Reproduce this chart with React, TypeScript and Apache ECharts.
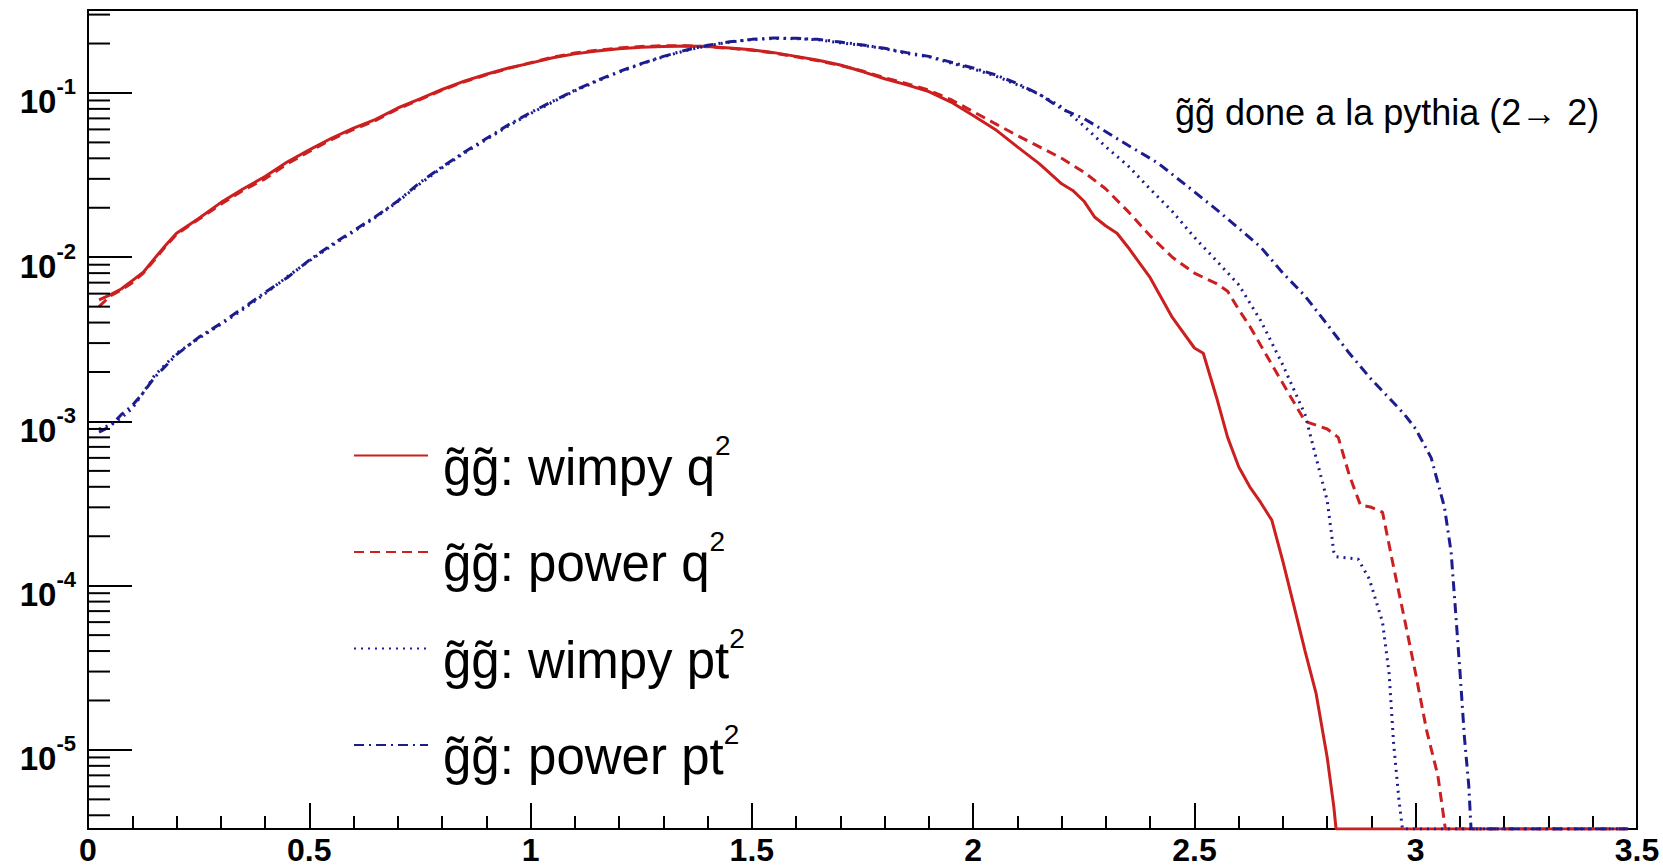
import React, { useEffect, useRef } from 'react';
import * as echarts from 'echarts';

// ---- axis ranges / ticks ----
const X_MIN = 0;
const X_MAX = 3.5;
const X_STEP = 0.5;
const Y_MIN = 3.3e-6;
const Y_MAX = 0.32;
const Y_DECADES = [-6, -5, -4, -3, -2, -1];
const Y_MINOR_MULTIPLIERS = [2, 3, 4, 5, 6, 7, 8, 9];

// ---- texts ----
const SERIES_NAMES = [
  'g\u0303g\u0303: wimpy q\u00b2',
  'g\u0303g\u0303: power q\u00b2',
  'g\u0303g\u0303: wimpy pt\u00b2',
  'g\u0303g\u0303: power pt\u00b2',
];
const ANNOTATION = 'g\u0303g\u0303 done a la pythia (2\u2192 2)';

// values that fall off the bottom of the log axis (empty bins) sit on the axis floor
const FLOOR = Y_MIN;

// ---- data: [x, y] ----
const WIMPY_Q2: [number, number][] = [
  [0.025, 5.5e-3], [0.05, 5.9e-3], [0.075, 6.4e-3], [0.1, 7.2e-3], [0.125, 8.1e-3], [0.15, 9.8e-3],
  [0.175, 0.0118], [0.2, 0.014], [0.25, 0.0172], [0.3, 0.0215], [0.35, 0.026], [0.4, 0.031],
  [0.45, 0.038], [0.5, 0.045], [0.55, 0.053], [0.6, 0.061], [0.65, 0.069], [0.7, 0.081],
  [0.75, 0.092], [0.8, 0.105], [0.85, 0.118], [0.9, 0.13], [0.95, 0.142], [1.0, 0.152],
  [1.05, 0.164], [1.1, 0.173], [1.15, 0.18], [1.2, 0.186], [1.25, 0.19], [1.3, 0.192],
  [1.35, 0.193], [1.4, 0.192], [1.45, 0.188], [1.5, 0.183], [1.55, 0.176], [1.6, 0.167],
  [1.65, 0.158], [1.7, 0.148], [1.75, 0.135], [1.8, 0.122], [1.85, 0.112], [1.9, 0.102],
  [1.95, 0.088], [2.0, 0.073], [2.05, 0.06], [2.1, 0.047], [2.15, 0.037], [2.2, 0.028],
  [2.225, 0.0255], [2.25, 0.022], [2.275, 0.0175], [2.3, 0.0155], [2.325, 0.014], [2.35, 0.0115],
  [2.4, 0.0075], [2.45, 0.0043], [2.5, 0.0028], [2.52, 0.0026], [2.55, 0.0014], [2.575, 8e-4],
  [2.6, 5.3e-4], [2.625, 4.0e-4], [2.65, 3.2e-4], [2.675, 2.5e-4], [2.7, 1.4e-4], [2.725, 7.5e-5],
  [2.75, 4e-5], [2.775, 2.2e-5], [2.8, 9e-6], [2.815, 4.5e-6], [2.82, FLOOR], [3.48, FLOOR],
];

const POWER_Q2: [number, number][] = [
  [0.025, 5.0e-3], [0.05, 5.8e-3], [0.075, 6.3e-3], [0.1, 7.0e-3], [0.125, 8.0e-3], [0.15, 9.6e-3],
  [0.175, 0.0116], [0.2, 0.0138], [0.25, 0.017], [0.3, 0.021], [0.35, 0.0255], [0.4, 0.03],
  [0.45, 0.037], [0.5, 0.044], [0.55, 0.052], [0.6, 0.06], [0.65, 0.068], [0.7, 0.08],
  [0.75, 0.091], [0.8, 0.104], [0.85, 0.117], [0.9, 0.129], [0.95, 0.141], [1.0, 0.153],
  [1.05, 0.165], [1.1, 0.175], [1.15, 0.182], [1.2, 0.188], [1.25, 0.192], [1.3, 0.194],
  [1.35, 0.194], [1.4, 0.191], [1.45, 0.187], [1.5, 0.182], [1.55, 0.175], [1.6, 0.166],
  [1.65, 0.157], [1.7, 0.147], [1.75, 0.136], [1.8, 0.124], [1.85, 0.114], [1.9, 0.104],
  [1.95, 0.091], [2.0, 0.077], [2.05, 0.065], [2.1, 0.055], [2.15, 0.047], [2.2, 0.04],
  [2.25, 0.033], [2.3, 0.026], [2.35, 0.019], [2.4, 0.0135], [2.45, 0.01], [2.5, 0.008],
  [2.55, 0.0069], [2.575, 0.0062], [2.6, 0.0048], [2.625, 0.0038], [2.65, 0.0029], [2.7, 0.0017],
  [2.75, 0.001], [2.8, 9.0e-4], [2.825, 8.0e-4], [2.85, 4.7e-4], [2.875, 3.1e-4], [2.9, 3.0e-4],
  [2.925, 2.8e-4], [2.95, 1.3e-4], [2.975, 6.2e-5], [3.0, 2.9e-5], [3.025, 1.3e-5], [3.05, 7e-6],
  [3.06, 4.5e-6], [3.067, FLOOR], [3.48, FLOOR],
];

const WIMPY_PT2: [number, number][] = [
  [0.025, 9.0e-4], [0.05, 9.5e-4], [0.075, 1.05e-3], [0.1, 1.2e-3], [0.125, 1.5e-3], [0.15, 1.9e-3],
  [0.2, 2.6e-3], [0.25, 3.2e-3], [0.3, 3.9e-3], [0.35, 4.8e-3], [0.4, 6.0e-3], [0.45, 7.6e-3],
  [0.5, 9.5e-3], [0.55, 0.0117], [0.6, 0.0143], [0.65, 0.0175], [0.7, 0.0218], [0.75, 0.028],
  [0.8, 0.035], [0.85, 0.043], [0.9, 0.052], [0.95, 0.063], [1.0, 0.075], [1.05, 0.088],
  [1.1, 0.103], [1.15, 0.118], [1.2, 0.134], [1.25, 0.15], [1.3, 0.166], [1.35, 0.181],
  [1.4, 0.194], [1.45, 0.204], [1.5, 0.211], [1.55, 0.215], [1.6, 0.214], [1.65, 0.211],
  [1.7, 0.202], [1.75, 0.195], [1.8, 0.186], [1.85, 0.174], [1.9, 0.166], [1.95, 0.152],
  [2.0, 0.14], [2.05, 0.127], [2.1, 0.112], [2.15, 0.098], [2.2, 0.082], [2.25, 0.063],
  [2.3, 0.047], [2.35, 0.036], [2.4, 0.026], [2.45, 0.019], [2.5, 0.0132], [2.55, 0.0095],
  [2.6, 0.0068], [2.65, 0.0041], [2.7, 0.0022], [2.75, 0.0011], [2.775, 6e-4], [2.8, 3.3e-4],
  [2.815, 1.6e-4], [2.82, 1.5e-4], [2.87, 1.45e-4], [2.895, 1.1e-4], [2.925, 6e-5], [2.94, 2.9e-5],
  [2.95, 1.1e-5], [2.962, 5e-6], [2.97, FLOOR], [3.48, FLOOR],
];

const POWER_PT2: [number, number][] = [
  [0.025, 8.6e-4], [0.05, 9.3e-4], [0.075, 1.1e-3], [0.1, 1.25e-3], [0.125, 1.5e-3], [0.15, 1.85e-3],
  [0.2, 2.55e-3], [0.25, 3.25e-3], [0.3, 3.95e-3], [0.35, 4.9e-3], [0.4, 6.1e-3], [0.45, 7.5e-3],
  [0.5, 9.6e-3], [0.55, 0.0119], [0.6, 0.0145], [0.65, 0.0177], [0.7, 0.022], [0.75, 0.0285],
  [0.8, 0.0355], [0.85, 0.0435], [0.9, 0.0528], [0.95, 0.064], [1.0, 0.076], [1.05, 0.089],
  [1.1, 0.104], [1.15, 0.119], [1.2, 0.135], [1.25, 0.151], [1.3, 0.167], [1.35, 0.182],
  [1.4, 0.195], [1.45, 0.205], [1.5, 0.212], [1.55, 0.216], [1.6, 0.215], [1.65, 0.212],
  [1.7, 0.204], [1.75, 0.196], [1.8, 0.187], [1.85, 0.176], [1.9, 0.167], [1.95, 0.154],
  [2.0, 0.142], [2.05, 0.129], [2.1, 0.114], [2.15, 0.098], [2.2, 0.08], [2.25, 0.07],
  [2.3, 0.058], [2.35, 0.048], [2.4, 0.04], [2.42, 0.037], [2.5, 0.025], [2.55, 0.0195],
  [2.6, 0.015], [2.65, 0.0115], [2.7, 0.008], [2.75, 0.0058], [2.8, 0.0039], [2.85, 0.0026],
  [2.9, 0.0018], [2.95, 0.0013], [2.975, 1.1e-3], [3.0, 9.0e-4], [3.035, 6.0e-4], [3.065, 3.0e-4],
  [3.08, 1.6e-4], [3.09, 7e-5], [3.1, 3e-5], [3.11, 1.2e-5], [3.12, 6e-6], [3.125, FLOOR], [3.48, FLOOR],
];

const FONT = '"Liberation Sans", Arial, Helvetica, sans-serif';
const RED = '#cc1f1f';
const BLUE = '#1c1c8f';

function buildOption() {
  const minorValues: number[] = [];
  for (const d of Y_DECADES) {
    for (const m of Y_MINOR_MULTIPLIERS) {
      const v = m * Math.pow(10, d);
      if (v > Y_MIN && v < Y_MAX) minorValues.push(v);
    }
  }

  const lineSeries = (name: string, data: [number, number][], color: string, type: any) => ({
    type: 'line',
    name,
    data,
    symbol: 'none',
    smooth: false,
    clip: true,
    lineStyle: { color, width: 3, type },
    itemStyle: { color },
    z: 4,
  });

  return {
    animation: false,
    backgroundColor: '#ffffff',
    grid: {
      left: 88,
      right: 26,
      top: 10,
      bottom: 38,
      show: true,
      borderColor: '#000',
      borderWidth: 2,
      backgroundColor: 'transparent',
    },
    xAxis: {
      type: 'value',
      min: X_MIN,
      max: X_MAX,
      interval: X_STEP,
      axisLine: { show: true, onZero: false, lineStyle: { color: '#000', width: 2 } },
      axisTick: { show: true, inside: true, length: 26, lineStyle: { color: '#000', width: 2 } },
      minorTick: { show: true, splitNumber: 5, length: 13, lineStyle: { color: '#000', width: 2 } },
      splitLine: { show: false },
      axisLabel: {
        color: '#000',
        fontSize: 32,
        lineHeight: 32,
        fontWeight: 'bold',
        fontFamily: FONT,
        margin: 5,
        showMinLabel: true,
        showMaxLabel: true,
      },
    },
    yAxis: {
      type: 'log',
      logBase: 10,
      min: Y_MIN,
      max: Y_MAX,
      axisLine: { show: true, onZero: false, lineStyle: { color: '#000', width: 2 } },
      axisTick: { show: true, inside: true, length: 44, lineStyle: { color: '#000', width: 2 } },
      minorTick: { show: false },
      splitLine: { show: false },
      axisLabel: {
        margin: 12,
        color: '#000',
        padding: [18, 0, 0, 0],
        formatter: (v: number) => {
          const e = Math.log10(v);
          const r = Math.round(e);
          if (Math.abs(e - r) > 1e-6) return '';
          return `{b|10}{s|${r}}`;
        },
        rich: {
          b: { fontSize: 33, fontWeight: 'bold', fontFamily: FONT, color: '#000', lineHeight: 52 },
          s: { fontSize: 22, fontWeight: 'bold', fontFamily: FONT, color: '#000', lineHeight: 22, verticalAlign: 'top' },
        },
      },
    },
    legend: {
      data: SERIES_NAMES,
      orient: 'vertical',
      left: 353,
      top: 431,
      padding: 0,
      itemWidth: 74,
      itemHeight: 14,
      itemGap: 35,
      selectedMode: false,
      itemStyle: { opacity: 0, borderWidth: 0 },
      formatter: (name: string) => `{b|${name.slice(0, -1)}}{s|2}`,
      textStyle: {
        color: '#000',
        fontFamily: FONT,
        fontSize: 51,
        padding: [23, 0, 0, 10],
        rich: {
          b: { fontSize: 51, fontFamily: FONT, color: '#000', lineHeight: 72 },
          s: { fontSize: 28, fontFamily: FONT, color: '#000', lineHeight: 30, verticalAlign: 'top' },
        },
      },
    },
    graphic: [
      {
        type: 'text',
        x: 1175,
        y: 112,
        silent: true,
        style: {
          text: ANNOTATION,
          fontSize: 36,
          fontFamily: FONT,
          fill: '#000',
          verticalAlign: 'middle',
          align: 'left',
        },
        z: 10,
      },
    ],
    series: [
      lineSeries(SERIES_NAMES[0], WIMPY_Q2, RED, 'solid'),
      lineSeries(SERIES_NAMES[1], POWER_Q2, RED, [10, 6]),
      lineSeries(SERIES_NAMES[2], WIMPY_PT2, BLUE, [2, 5]),
      lineSeries(SERIES_NAMES[3], POWER_PT2, BLUE, [10, 5, 2, 5]),
      {
        type: 'custom',
        name: 'y minor ticks',
        silent: true,
        clip: false,
        data: minorValues.map((v) => [X_MIN, v]),
        renderItem: (params: any, api: any) => {
          const p = api.coord([api.value(0), api.value(1)]);
          return {
            type: 'line',
            shape: { x1: p[0], y1: p[1], x2: p[0] + 22, y2: p[1] },
            style: { stroke: '#000', lineWidth: 2 },
          };
        },
        z: 5,
      },
    ],
  };
}

export default function App() {
  const ref = useRef<HTMLDivElement>(null);
  useEffect(() => {
    if (!ref.current) return;
    const chart = echarts.init(ref.current, null, { renderer: 'svg' });
    chart.setOption(buildOption() as any);
    return () => chart.dispose();
  }, []);
  return (
    <div
      ref={ref}
      style={{ position: 'fixed', left: 0, top: 0, width: 1663, height: 867, background: '#fff' }}
    />
  );
}
